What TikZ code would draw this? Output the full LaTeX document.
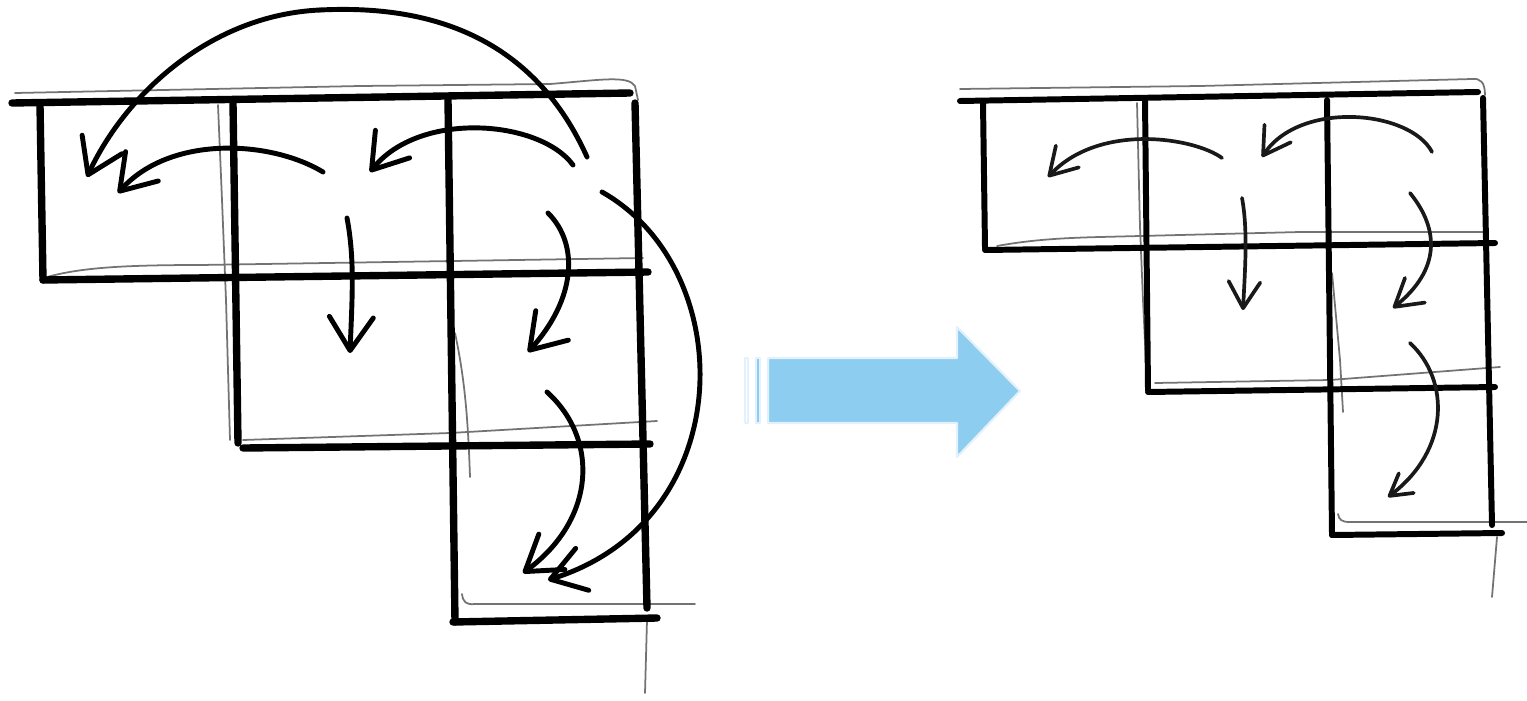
\documentclass[tikz,border=0pt]{standalone}
\usetikzlibrary{arrows.meta}
\definecolor{arrowblue}{HTML}{8DCDF0}
\definecolor{edgeblue}{HTML}{E2F1FB}
\begin{document}
\begin{tikzpicture}[x=0.02cm,y=-0.02cm,line cap=round,line join=round,
  gridL/.style={line width=4.2pt,black},
  gridR/.style={line width=3.4pt,black},
  sketchline/.style={line width=1.0pt,black!55},
  arrL/.style={line width=2.8pt,black,-{Straight Barb[length=19pt,width=25pt,round]}},
  arrR/.style={line width=2.1pt,black!90,-{Straight Barb[length=15pt,width=18pt,round]}},
  arrRs/.style={line width=2.1pt,black!90,-{Straight Barb[length=12pt,width=14pt,round]}},
  bigarrow/.style={fill=arrowblue,draw=edgeblue,line width=1.2pt}]
\useasboundingbox (0,0) rectangle (1527,700);

% ---------- left grid: sketch (thin) lines ----------
\draw[sketchline] (15,93) -- (360,86) -- (550,84) .. controls (600,80) and (628,75) .. (635,86) -- (638,100);
\draw[sketchline] (218,105) -- (222,200) -- (226,300) -- (230,440);
\draw[sketchline] (47,277) .. controls (80,268) and (120,265) .. (200,265) -- (643,258);
\draw[sketchline] (243,440) -- (450,433) -- (657,421);
\draw[sketchline] (455,333) .. controls (465,380) and (468,420) .. (470,477);
\draw[sketchline] (462,594) .. controls (463,602) and (466,605) .. (475,604) -- (695,604);
\draw[sketchline] (647,620) -- (645,693);

% ---------- left grid: thick lines ----------
\draw[gridL] (12,103) -- (630,93);
\draw[gridL] (40,105) -- (43,280);
\draw[gridL] (233,103) -- (238,443);
\draw[gridL] (448,100) -- (455,622);
\draw[gridL] (635,103) -- (647,608);
\draw[gridL] (43,280) -- (648,272);
\draw[gridL] (243,448) -- (650,444);
\draw[gridL] (453,622) -- (657,618);

% ---------- left grid: arrows ----------
\coordinate (a1s) at (587,157);
\coordinate (a1t) at (320,10);
\coordinate (a1e) at (87,177);
\coordinate (a2s) at (323,172);
\coordinate (a2e) at (118,193);
\coordinate (a3s) at (573,165);
\coordinate (a3e) at (370,172);
\coordinate (a4s) at (347,218);
\coordinate (a4e) at (350,353);
\coordinate (a5s) at (548,213);
\coordinate (a5e) at (528,352);
\coordinate (a6s) at (547,392);
\coordinate (a6e) at (523,573);
\coordinate (a7s) at (602,192);
\coordinate (a7e) at (548,580);

\draw[line width=2.8pt] (a1s) .. controls (530,30) and (420,5) .. (a1t);
\draw[arrL] (a1t) .. controls (210,15) and (125,95) .. (a1e);
\draw[arrL] (a2s) .. controls (270,140) and (170,135) .. (a2e);
\draw[arrL] (a3s) .. controls (540,120) and (420,110) .. (a3e);
\draw[arrL] (a4s) .. controls (355,260) and (352,300) .. (a4e);
\draw[arrL] (a5s) .. controls (580,245) and (575,300) .. (a5e);
\draw[arrL] (a6s) .. controls (600,440) and (595,520) .. (a6e);
\draw[arrL] (a7s) .. controls (740,270) and (740,520) .. (a7e);

% ---------- blue arrow ----------
\draw[bigarrow] (768,358) -- (957,358) -- (957,327) -- (1020,391) -- (957,457) -- (957,423) -- (768,423) -- cycle;
\draw[bigarrow] (756,358) rectangle (760,423);
\draw[fill=white,draw=edgeblue,line width=1.2pt] (745,358) rectangle (748,423);

% ---------- right grid: sketch (thin) lines ----------
\draw[sketchline] (960,89) -- (1200,86) -- (1472,79) .. controls (1480,78) and (1485,82) .. (1485,95);
\draw[sketchline] (1137,103) -- (1140,227) -- (1143,300) -- (1147,385);
\draw[sketchline] (997,246) .. controls (1030,240) and (1060,238) .. (1100,237) -- (1300,232) -- (1483,232);
\draw[sketchline] (1332,273) -- (1340,360) -- (1343,412);
\draw[sketchline] (1155,383) -- (1330,380) -- (1500,367);
\draw[sketchline] (1338,514) .. controls (1339,520) and (1342,522) .. (1350,522) -- (1527,522);
\draw[sketchline] (1497,537) -- (1492,597);

% ---------- right grid: thick lines ----------
\draw[gridR] (960,101) -- (1478,92);
\draw[gridR] (983,103) -- (985,248);
\draw[gridR] (1145,100) -- (1148,390);
\draw[gridR] (1327,100) -- (1332,535);
\draw[gridR] (1483,98) -- (1492,525);
\draw[gridR] (985,250) -- (1495,243);
\draw[gridR] (1148,392) -- (1495,387);
\draw[gridR] (1332,535) -- (1502,533);

% ---------- right grid: arrows ----------
\coordinate (r1s) at (1222,158);
\coordinate (r1e) at (1048,177);
\coordinate (r2s) at (1432,152);
\coordinate (r2e) at (1262,157);
\coordinate (r3s) at (1242,198);
\coordinate (r3e) at (1243,310);
\coordinate (r4s) at (1410,193);
\coordinate (r4e) at (1393,308);
\coordinate (r5s) at (1410,343);
\coordinate (r5e) at (1388,497);

\draw[arrR] (r1s) .. controls (1195,138) and (1100,122) .. (r1e);
\draw[arrR] (r2s) .. controls (1410,110) and (1300,100) .. (r2e);
\draw[arrR] (r3s) .. controls (1248,230) and (1245,270) .. (r3e);
\draw[arrR] (r4s) .. controls (1440,230) and (1440,270) .. (r4e);
\draw[arrRs] (r5s) .. controls (1450,380) and (1450,450) .. (r5e);
\end{tikzpicture}
\end{document}
